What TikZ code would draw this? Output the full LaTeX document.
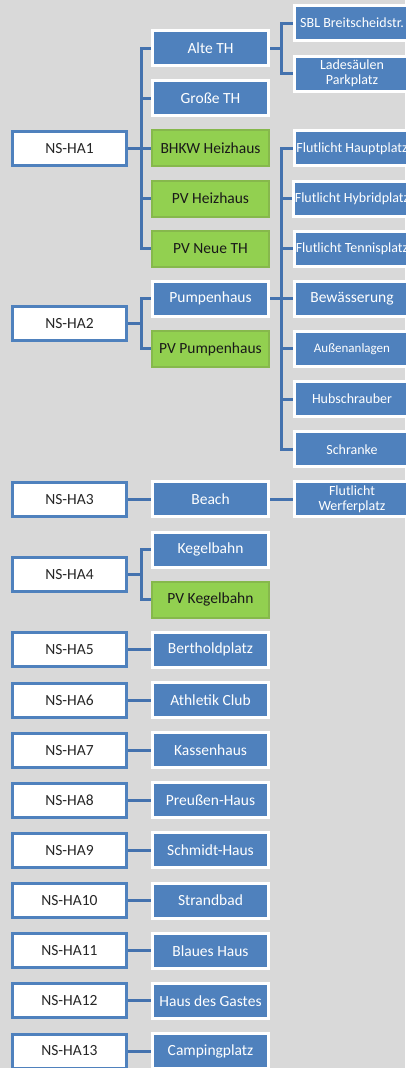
\documentclass[tikz,border=0pt]{standalone}
\usepackage{fontspec}
\setmainfont{Carlito}
\usepackage{tikz}
\definecolor{bggray}{HTML}{D9D9D9}
\definecolor{boxblue}{HTML}{4F81BD}
\definecolor{linkblue}{HTML}{4472AE}
\definecolor{boxgreen}{HTML}{92D050}
\definecolor{greenedge}{HTML}{86B84C}
\tikzset{
    box_ns/.style={
        rectangle, draw=boxblue, line width=3pt, fill=white,
        minimum width=114pt, minimum height=34pt,
        font=\fontsize{15.5}{17}\selectfont, text=black!85
    },
    box_blue/.style={
        rectangle, draw=white, line width=3pt, fill=boxblue,
        minimum width=116pt, minimum height=35pt,
        font=\fontsize{15.5}{17}\selectfont, text=white
    },
    box_green/.style={
        rectangle, draw=greenedge, line width=2pt, fill=boxgreen,
        minimum width=117pt, minimum height=36pt,
        font=\fontsize{15.5}{17}\selectfont, text=black!90
    },
    box_small/.style={
        box_blue, inner xsep=1pt, align=center,
        font=\fontsize{14}{15}\selectfont
    },
    link/.style={
        draw=linkblue, line width=3pt
    }
}

\begin{document}
\begin{tikzpicture}[x=1pt, y=1pt]
\path[use as bounding box, fill=bggray] (0,0) rectangle (405,-1068);

% netzstationen
\node[box_ns] (ha1) at (69.5, -148.3) {NS-HA1};
\node[box_ns] (ha2) at (69.5, -323.85) {NS-HA2};
\node[box_ns] (ha3) at (69.5, -499.4) {NS-HA3};
\node[box_ns] (ha4) at (69.5, -574.6) {NS-HA4};
\node[box_ns] (ha5) at (69.5, -649.8) {NS-HA5};
\node[box_ns] (ha6) at (69.5, -700) {NS-HA6};
\node[box_ns] (ha7) at (69.5, -750.1) {NS-HA7};
\node[box_ns] (ha8) at (69.5, -800.3) {NS-HA8};
\node[box_ns] (ha9) at (69.5, -850.4) {NS-HA9};
\node[box_ns] (ha10) at (69.5, -900.6) {NS-HA10};
\node[box_ns] (ha11) at (69.5, -950.7) {NS-HA11};
\node[box_ns] (ha12) at (69.5, -1000.9) {NS-HA12};
\node[box_ns] (ha13) at (69.5, -1051) {NS-HA13};

% gebaeude
\node[box_blue] (alte) at (210.5, -48) {Alte TH};
\node[box_blue] (grosse) at (210.5, -98.2) {Große TH};
\node[box_green] (bhkw) at (210.5, -148.3) {BHKW Heizhaus};
\node[box_green] (pvheiz) at (210.5, -198.5) {PV Heizhaus};
\node[box_green] (pvneue) at (210.5, -248.6) {PV Neue TH};
\node[box_blue] (pumpe) at (210.5, -298.8) {Pumpenhaus};
\node[box_green] (pvpumpe) at (210.5, -348.9) {PV Pumpenhaus};
\node[box_blue] (beach) at (210.5, -499.4) {Beach};
\node[box_blue] (kegel) at (210.5, -549.5) {Kegelbahn};
\node[box_green] (pvkegel) at (210.5, -599.7) {PV Kegelbahn};
\node[box_blue] (berthold) at (210.5, -649.8) {Bertholdplatz};
\node[box_blue] (athletik) at (210.5, -700) {Athletik Club};
\node[box_blue] (kasse) at (210.5, -750.1) {Kassenhaus};
\node[box_blue] (preussen) at (210.5, -800.3) {Preußen-Haus};
\node[box_blue] (schmidt) at (210.5, -850.4) {Schmidt-Haus};
\node[box_blue] (strand) at (210.5, -900.6) {Strandbad};
\node[box_blue] (blau) at (210.5, -950.7) {Blaues Haus};
\node[box_blue] (gast) at (210.5, -1000.9) {Haus des Gastes};
\node[box_blue] (camping) at (210.5, -1051) {Campingplatz};

% verbraucher
\node[box_small] (sbl) at (352, -23) {SBL Breitscheidstr.};
\node[box_small] (lade) at (352, -73.5) {Ladesäulen\\Parkplatz};
\node[box_small] (haupt) at (352, -148.3) {Flutlicht Hauptplatz};
\node[box_small] (hybrid) at (352, -198.5) {Flutlicht Hybridplatz};
\node[box_small] (tennis) at (352, -248.6) {Flutlicht Tennisplatz};
\node[box_blue] (bewaess) at (352, -298.8) {Bewässerung};
\node[box_small, font=\fontsize{13}{15}\selectfont] (aussen) at (352, -348.9) {Außenanlagen};
\node[box_small] (hub) at (352, -399.1) {Hubschrauber};
\node[box_small] (schranke) at (352, -449.2) {Schranke};
\node[box_small] (werfer) at (352, -499.4) {Flutlicht\\Werferplatz};

% verbindungen
\draw[link] (ha1.east) -- ++(13.5,0) |- (alte.west);
\draw[link] (ha1.east) -- ++(13.5,0) |- (grosse.west);
\draw[link] (ha1.east) -- ++(13.5,0) |- (bhkw.west);
\draw[link] (ha1.east) -- ++(13.5,0) |- (pvheiz.west);
\draw[link] (ha1.east) -- ++(13.5,0) |- (pvneue.west);
\draw[link] (ha2.east) -- ++(13.5,0) |- (pumpe.west);
\draw[link] (ha2.east) -- ++(13.5,0) |- (pvpumpe.west);
\draw[link] (ha3.east) -- (beach.west);
\draw[link] (ha4.east) -- ++(13.5,0) |- (kegel.west);
\draw[link] (ha4.east) -- ++(13.5,0) |- (pvkegel.west);
\draw[link] (ha5.east) -- (berthold.west);
\draw[link] (ha6.east) -- (athletik.west);
\draw[link] (ha7.east) -- (kasse.west);
\draw[link] (ha8.east) -- (preussen.west);
\draw[link] (ha9.east) -- (schmidt.west);
\draw[link] (ha10.east) -- (strand.west);
\draw[link] (ha11.east) -- (blau.west);
\draw[link] (ha12.east) -- (gast.west);
\draw[link] (ha13.east) -- (camping.west);

\draw[link] (alte.east) -- ++(11,0) |- (sbl.west);
\draw[link] (alte.east) -- ++(11,0) |- (lade.west);
\draw[link] (pumpe.east) -- ++(11,0) |- (haupt.west);
\draw[link] (pumpe.east) -- ++(11,0) |- (hybrid.west);
\draw[link] (pumpe.east) -- ++(11,0) |- (tennis.west);
\draw[link] (pumpe.east) -- (bewaess.west);
\draw[link] (pumpe.east) -- ++(11,0) |- (aussen.west);
\draw[link] (pumpe.east) -- ++(11,0) |- (hub.west);
\draw[link] (pumpe.east) -- ++(11,0) |- (schranke.west);
\draw[link] (beach.east) -- (werfer.west);
\end{tikzpicture}
\end{document}
